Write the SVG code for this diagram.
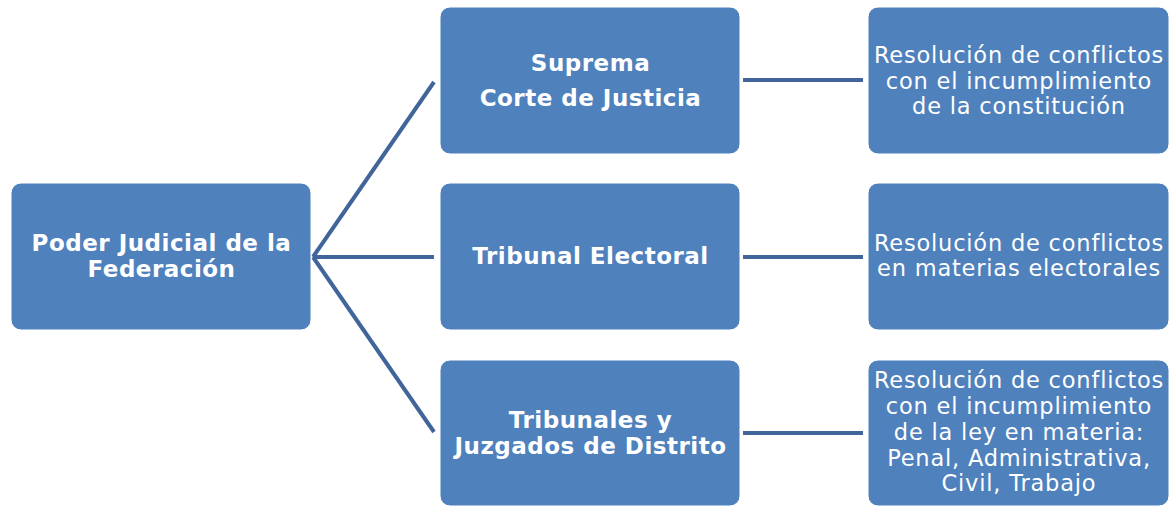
<svg xmlns="http://www.w3.org/2000/svg" width="1170" height="506" viewBox="0 0 1170 506">
<style>
.box{fill:#4F81BD;stroke:#ffffff;stroke-width:1}
.b{font-family:"DejaVu Sans",Verdana,sans-serif;font-weight:bold;font-size:23px;letter-spacing:0.5px;fill:#fff;text-anchor:middle}
.r{font-family:"DejaVu Sans",Verdana,sans-serif;font-size:22.5px;letter-spacing:0.8px;fill:#fff;text-anchor:middle}
.c{stroke:#41659A;stroke-width:4;fill:none}
</style>
<rect width="1170" height="506" fill="#fff"/>
<g id="connectors">
<line class="c" x1="313" y1="257" x2="434" y2="82"/>
<line class="c" x1="313" y1="257" x2="434" y2="257"/>
<line class="c" x1="313" y1="257" x2="434" y2="432"/>
<line class="c" x1="743" y1="80" x2="863" y2="80"/>
<line class="c" x1="743" y1="257" x2="863" y2="257"/>
<line class="c" x1="743" y1="433" x2="863" y2="433"/>
</g>
<g id="n-poder">
<rect class="box" x="11" y="183" width="300" height="147" rx="10"/>
<text class="b" x="161.5" y="251">Poder Judicial de la</text>
<text class="b" x="161.5" y="277">Federación</text>
</g>
<g id="n-suprema">
<rect class="box" x="440" y="7" width="300" height="147" rx="10"/>
<text class="b" x="590.5" y="71">Suprema</text>
<text class="b" x="590.5" y="106">Corte de Justicia</text>
</g>
<g id="n-electoral">
<rect class="box" x="440" y="183" width="300" height="147" rx="10"/>
<text class="b" x="590.5" y="264">Tribunal Electoral</text>
</g>
<g id="n-tribunales">
<rect class="box" x="440" y="360" width="300" height="146" rx="10"/>
<text class="b" x="590.5" y="428">Tribunales y</text>
<text class="b" x="590.5" y="454">Juzgados de Distrito</text>
</g>
<g id="n-r1">
<rect class="box" x="868" y="7" width="301" height="147" rx="10"/>
<text class="r" x="1019" y="63">Resolución de conflictos</text>
<text class="r" x="1019" y="89">con el incumplimiento</text>
<text class="r" x="1019" y="114">de la constitución</text>
</g>
<g id="n-r2">
<rect class="box" x="868" y="183" width="301" height="147" rx="10"/>
<text class="r" x="1019" y="251">Resolución de conflictos</text>
<text class="r" x="1019" y="276">en materias electorales</text>
</g>
<g id="n-r3">
<rect class="box" x="868" y="360" width="301" height="146" rx="10"/>
<text class="r" x="1019" y="388">Resolución de conflictos</text>
<text class="r" x="1019" y="414">con el incumplimiento</text>
<text class="r" x="1019" y="440">de la ley en materia:</text>
<text class="r" x="1019" y="466">Penal, Administrativa,</text>
<text class="r" x="1019" y="491">Civil, Trabajo</text>
</g>
</svg>
